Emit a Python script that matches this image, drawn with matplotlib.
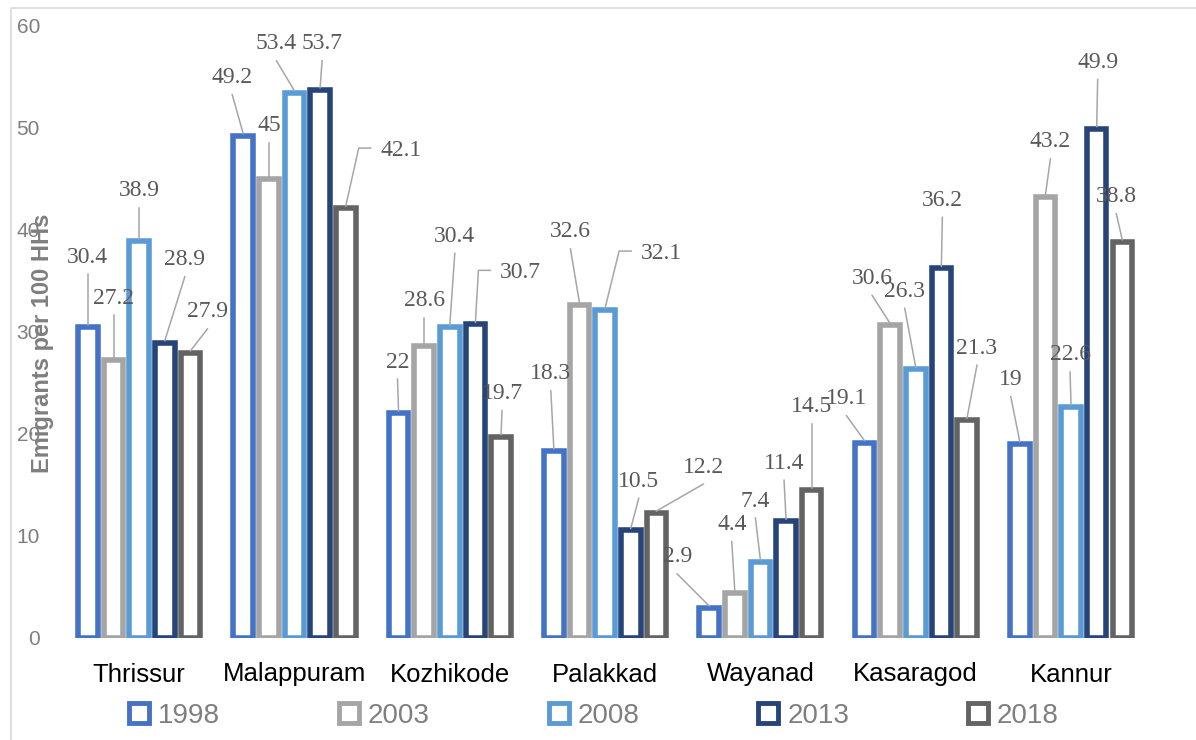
import matplotlib.pyplot as plt
from matplotlib.lines import Line2D
from matplotlib.patches import Patch, Rectangle
from matplotlib.transforms import IdentityTransform

# data
districts = ['Thrissur', 'Malappuram', 'Kozhikode', 'Palakkad', 'Wayanad', 'Kasaragod', 'Kannur']
years = ['1998', '2003', '2008', '2013', '2018']
v1998 = [30.4, 49.2, 22, 18.3, 2.9, 19.1, 19]
v2003 = [27.2, 45, 28.6, 32.6, 4.4, 30.6, 43.2]
v2008 = [38.9, 53.4, 30.4, 32.1, 7.4, 26.3, 22.6]
v2013 = [28.9, 53.7, 30.7, 10.5, 11.4, 36.2, 49.9]
v2018 = [27.9, 42.1, 19.7, 12.2, 14.5, 21.3, 38.8]
series = [v1998, v2003, v2008, v2013, v2018]
colors = ['#4472C4', '#A5A5A5', '#5B9BD5', '#264478', '#636363']

# data label offsets in pixels from bar top (dx, dy), one row per year
lab_off = [
    [(0, 70), (-11, 58), (-1, 51), (-3, 77), (-32, 51), (-18, 44), (-9, 64)],
    [(0, 62), (0, 53), (0, 45), (-9, 73), (-3, 68), (-18, 47), (5, 55)],
    [(0, 50), (-18, 49), (5, 91), (56, 57), (-5, 61), (-11, 78), (-1, 52)],
    [(20, 83), (2, 46), (45, 52), (8, 49), (-2, 58), (1, 68), (1, 66)],
    [(17, 41), (55, 58), (1, 43), (47, 46), (0, 83), (10, 72), (-6, 45)],
]
# labels whose leader line has a short horizontal elbow
elbow = {(2, 3), (3, 2), (4, 1)}

W, H = 1196, 740
fig = plt.figure(figsize=(W / 100, H / 100), dpi=100)
ax = fig.add_axes([61.5 / W, (H - 637.5) / H, (1148.7 - 61.5) / W, 612 / H])

slot = 0.165
bw = 0.126
for j, vals in enumerate(series):
    xs = [i + (j - 2) * slot for i in range(len(districts))]
    ax.bar(xs, vals, width=bw, facecolor='white', edgecolor=colors[j],
           linewidth=4, zorder=3)

ax.set_xlim(-0.5, len(districts) - 0.5)
ax.set_ylim(0, 60)
ax.set_yticks(range(0, 61, 10))
ax.set_xticks(range(len(districts)))
ax.set_xticklabels(districts, fontsize=18.5, family='Liberation Sans', color='black')
for t in ax.get_yticklabels():
    t.set_family('Liberation Sans')
    t.set_fontsize(15)
    t.set_color('#7f7f7f')
ax.tick_params(axis='both', length=0)
ax.tick_params(axis='y', pad=15.5)
ax.tick_params(axis='x', pad=18)
for s in ax.spines.values():
    s.set_visible(False)

# data labels + leader lines
for j, vals in enumerate(series):
    for i, v in enumerate(vals):
        x = i + (j - 2) * slot
        dx, dy = lab_off[j][i]
        ax.annotate(f'{v:g}', xy=(x, v), xytext=(dx, dy), textcoords='offset pixels',
                    ha='center', va='center', fontsize=17, family='Liberation Serif',
                    color='#595959', zorder=5)
        bx, by = ax.transData.transform((x, v))
        by += 2
        lx, ly = bx + dx, by - 2 + dy
        if (j, i) in elbow:
            px = [lx - 30, lx - 42, bx]
            py = [ly + 2, ly + 2, by]
        else:
            px = [lx, bx]
            py = [ly - 17, by]
        fig.add_artist(Line2D(px, py, transform=IdentityTransform(),
                              color='#a6a6a6', lw=1.1, zorder=4))

fig.text(43 / W, 1 - 343 / H, 'Emigrants per 100 HHs', rotation=90, ha='center',
         va='center', fontsize=17, fontweight='bold', family='Liberation Sans',
         color='#7f7f7f')

handles = [Patch(facecolor='white', edgecolor=c, lw=3.5) for c in colors]
fig.legend(handles, years, loc='center', bbox_to_anchor=(594 / W, 24 / H), ncol=5,
           frameon=False, handlelength=0.72, handleheight=0.72, handletextpad=0.32,
           columnspacing=4.28, labelcolor='#7f7f7f',
           prop={'family': 'Liberation Sans', 'size': 20})

# outer chart border
fig.add_artist(Rectangle((11 / W, -0.1), 1.2, 1.1 - 8 / H, transform=fig.transFigure,
                         fill=False, edgecolor='#d9d9d9', lw=1.2))

plt.savefig('out.png', dpi=100)
